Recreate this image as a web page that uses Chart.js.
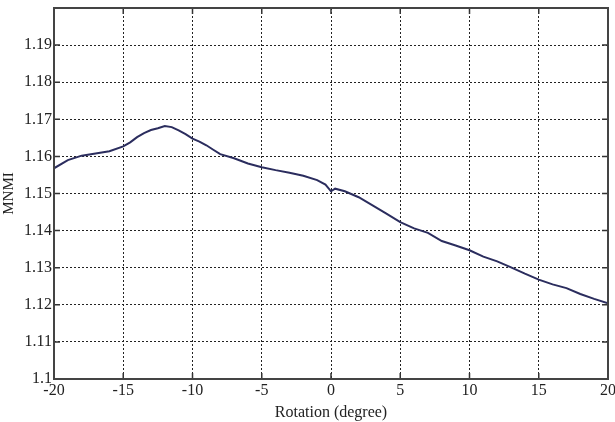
<!DOCTYPE html>
<html>
<head>
<meta charset="utf-8">
<script src="https://cdn.jsdelivr.net/npm/chart.js@4"></script>
<style>
  html, body { margin: 0; padding: 0; background: #fff; }
  #wrap { width: 615px; height: 422px; }
</style>
</head>
<body>
<div id="wrap"><canvas id="graf"></canvas></div>
<script>
// rotation angles (degree)
const rotace = [-20, -19, -18, -17, -16, -15, -14.5, -14, -13.5, -13, -12.5, -12, -11.5, -11, -10.5, -10,
  -9.5, -9, -8.5, -8, -7, -6, -5, -4, -3, -2, -1, -0.4, 0, 0.3, 1, 2, 3, 4, 5, 6, 7, 8, 9, 10,
  11, 12, 13, 14, 15, 16, 17, 18, 19, 20];
// MNMI values
const mnmi = [1.1568, 1.1590, 1.1602, 1.1608, 1.1614, 1.1627, 1.1638, 1.1652, 1.1663, 1.1671, 1.1676, 1.1682, 1.1679, 1.1670, 1.1660, 1.1648,
  1.1640, 1.1630, 1.1618, 1.1606, 1.1595, 1.1581, 1.1571, 1.1563, 1.1556, 1.1548, 1.1536, 1.1524, 1.1506, 1.1513, 1.1506, 1.1490, 1.1468, 1.1446, 1.1423, 1.1406, 1.1394, 1.1372, 1.1360, 1.1347,
  1.1330, 1.1317, 1.1301, 1.1284, 1.1268, 1.1255, 1.1245, 1.1229, 1.1216, 1.1204];
const xTicks = [-20, -15, -10, -5, 0, 5, 10, 15, 20];
const yTicks = [1.1, 1.11, 1.12, 1.13, 1.14, 1.15, 1.16, 1.17, 1.18, 1.19];

const font = { family: 'Liberation Serif', size: 16 };

// inner tick marks + solid box like MATLAB axes
const ramecek = {
  id: 'ramecek',
  afterDraw(chart) {
    const { ctx, chartArea: a, scales } = chart;
    ctx.save();
    ctx.strokeStyle = '#333';
    ctx.lineWidth = 1.5;
    ctx.beginPath();
    xTicks.forEach(v => {
      const px = scales.x.getPixelForValue(v);
      ctx.moveTo(px, a.bottom); ctx.lineTo(px, a.bottom - 6);
      ctx.moveTo(px, a.top); ctx.lineTo(px, a.top + 6);
    });
    yTicks.forEach(v => {
      const py = scales.y.getPixelForValue(v);
      ctx.moveTo(a.left, py); ctx.lineTo(a.left + 6, py);
      ctx.moveTo(a.right, py); ctx.lineTo(a.right - 6, py);
    });
    ctx.stroke();
    ctx.lineWidth = 2;
    ctx.strokeStyle = '#444';
    ctx.strokeRect(a.left, a.top, a.right - a.left, a.bottom - a.top);
    ctx.restore();
  }
};

new Chart(document.getElementById('graf').getContext('2d'), {
  type: 'line',
  data: {
    datasets: [{
      data: rotace.map((x, i) => ({ x: x, y: mnmi[i] })),
      borderColor: '#2b2d5e',
      borderWidth: 2,
      pointRadius: 0,
      fill: false,
      tension: 0
    }]
  },
  options: {
    responsive: true,
    maintainAspectRatio: false,
    animation: false,
    layout: { padding: { left: 0, right: 7, top: 8, bottom: 0 } },
    plugins: { legend: { display: false }, tooltip: { enabled: false } },
    scales: {
      x: {
        type: 'linear',
        min: -20, max: 20,
        afterBuildTicks: s => { s.ticks = xTicks.map(v => ({ value: v })); },
        afterFit: s => { s.height = 43; s.paddingRight = 0; s.paddingLeft = 0; },
        grid: { color: '#222', lineWidth: 1, drawTicks: false },
        border: { display: false, dash: [2, 2] },
        ticks: { color: '#222', font: font, padding: 2, maxRotation: 0, callback: v => String(v) },
        title: { display: true, text: 'Rotation (degree)', color: '#222', font: font, padding: { top: -3, bottom: 0 } }
      },
      y: {
        min: 1.1, max: 1.2,
        afterBuildTicks: s => { s.ticks = yTicks.map(v => ({ value: v })); },
        afterFit: s => { s.width = 54; s.paddingTop = 0; s.paddingBottom = 0; },
        grid: { color: '#222', lineWidth: 1, drawTicks: false },
        border: { display: false, dash: [2, 2] },
        ticks: { color: '#222', font: font, padding: 2, callback: v => String(Math.round(v * 100) / 100) },
        title: { display: true, text: 'MNMI', color: '#222', font: { family: 'Liberation Serif', size: 15 }, padding: 0 }
      }
    }
  },
  plugins: [ramecek]
});
</script>
</body>
</html>
